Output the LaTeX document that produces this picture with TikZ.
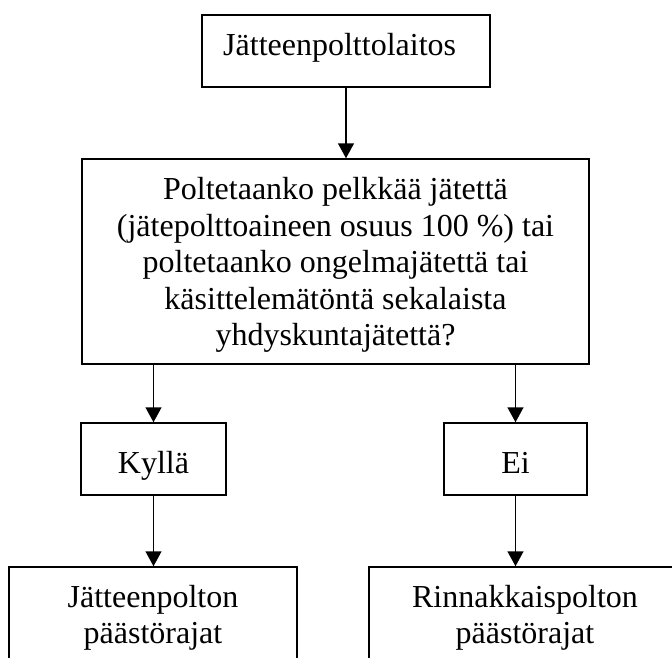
\documentclass[tikz,border=0pt]{standalone}
\usepackage{fontspec}
\setmainfont{Liberation Serif}
\usetikzlibrary{arrows.meta}

\tikzset{
  box/.style={draw, line width=1.5pt, inner sep=0pt, fill=none},
  txt/.style={inner sep=0pt, font=\fontsize{32}{36.5}\selectfont},
  flow/.style={line width=1.5pt, -{Triangle[width=16pt,length=15pt]}}
}

\begin{document}
\begin{tikzpicture}[x=1pt, y=-1pt]
  \useasboundingbox (0,0) rectangle (672,657);

  % boxes
  \node[box, minimum width=288pt, minimum height=72pt]  (top)   at (346,51)      {};
  \node[box, minimum width=507pt, minimum height=205pt] (main)  at (335.5,261.5) {};
  \node[box, minimum width=145pt, minimum height=72pt]  (kylla) at (153.5,459)   {};
  \node[box, minimum width=143pt, minimum height=72pt]  (ei)    at (515.5,459)   {};
  \node[box, minimum width=288pt, minimum height=153pt] (left)  at (153,643.5)   {};
  \node[box, minimum width=312pt, minimum height=153pt] (right) at (525,643.5)   {};

  % texts
  \node[txt, anchor=base west] (toptext) at (223,55) {Jätteenpolttolaitos};
  \node[txt, align=center] (maintext) at (335.5,265)
    {Poltetaanko pelkkää jätettä\\(jätepolttoaineen osuus 100~\%) tai\\poltetaanko ongelmajätettä tai\\käsittelemätöntä sekalaista\\yhdyskuntajätettä?};
  \node[txt, anchor=base] (kyllatext) at (153.5,473) {Kyllä};
  \node[txt, anchor=base] (eitext) at (515.5,473) {Ei};
  \node[txt, align=center] (lefttext) at (153,617.8) {Jätteenpolton\\päästörajat};
  \node[txt, align=center] (righttext) at (525,617.8) {Rinnakkaispolton\\päästörajat};

  % connectors
  \draw[flow] (top.south) -- (top.south |- main.north);
  \draw[flow] (kylla.north |- main.south) -- (kylla.north);
  \draw[flow] (ei.north |- main.south) -- (ei.north);
  \draw[flow] (kylla.south) -- (kylla.south |- left.north);
  \draw[flow] (ei.south) -- (ei.south |- right.north);
\end{tikzpicture}
\end{document}
